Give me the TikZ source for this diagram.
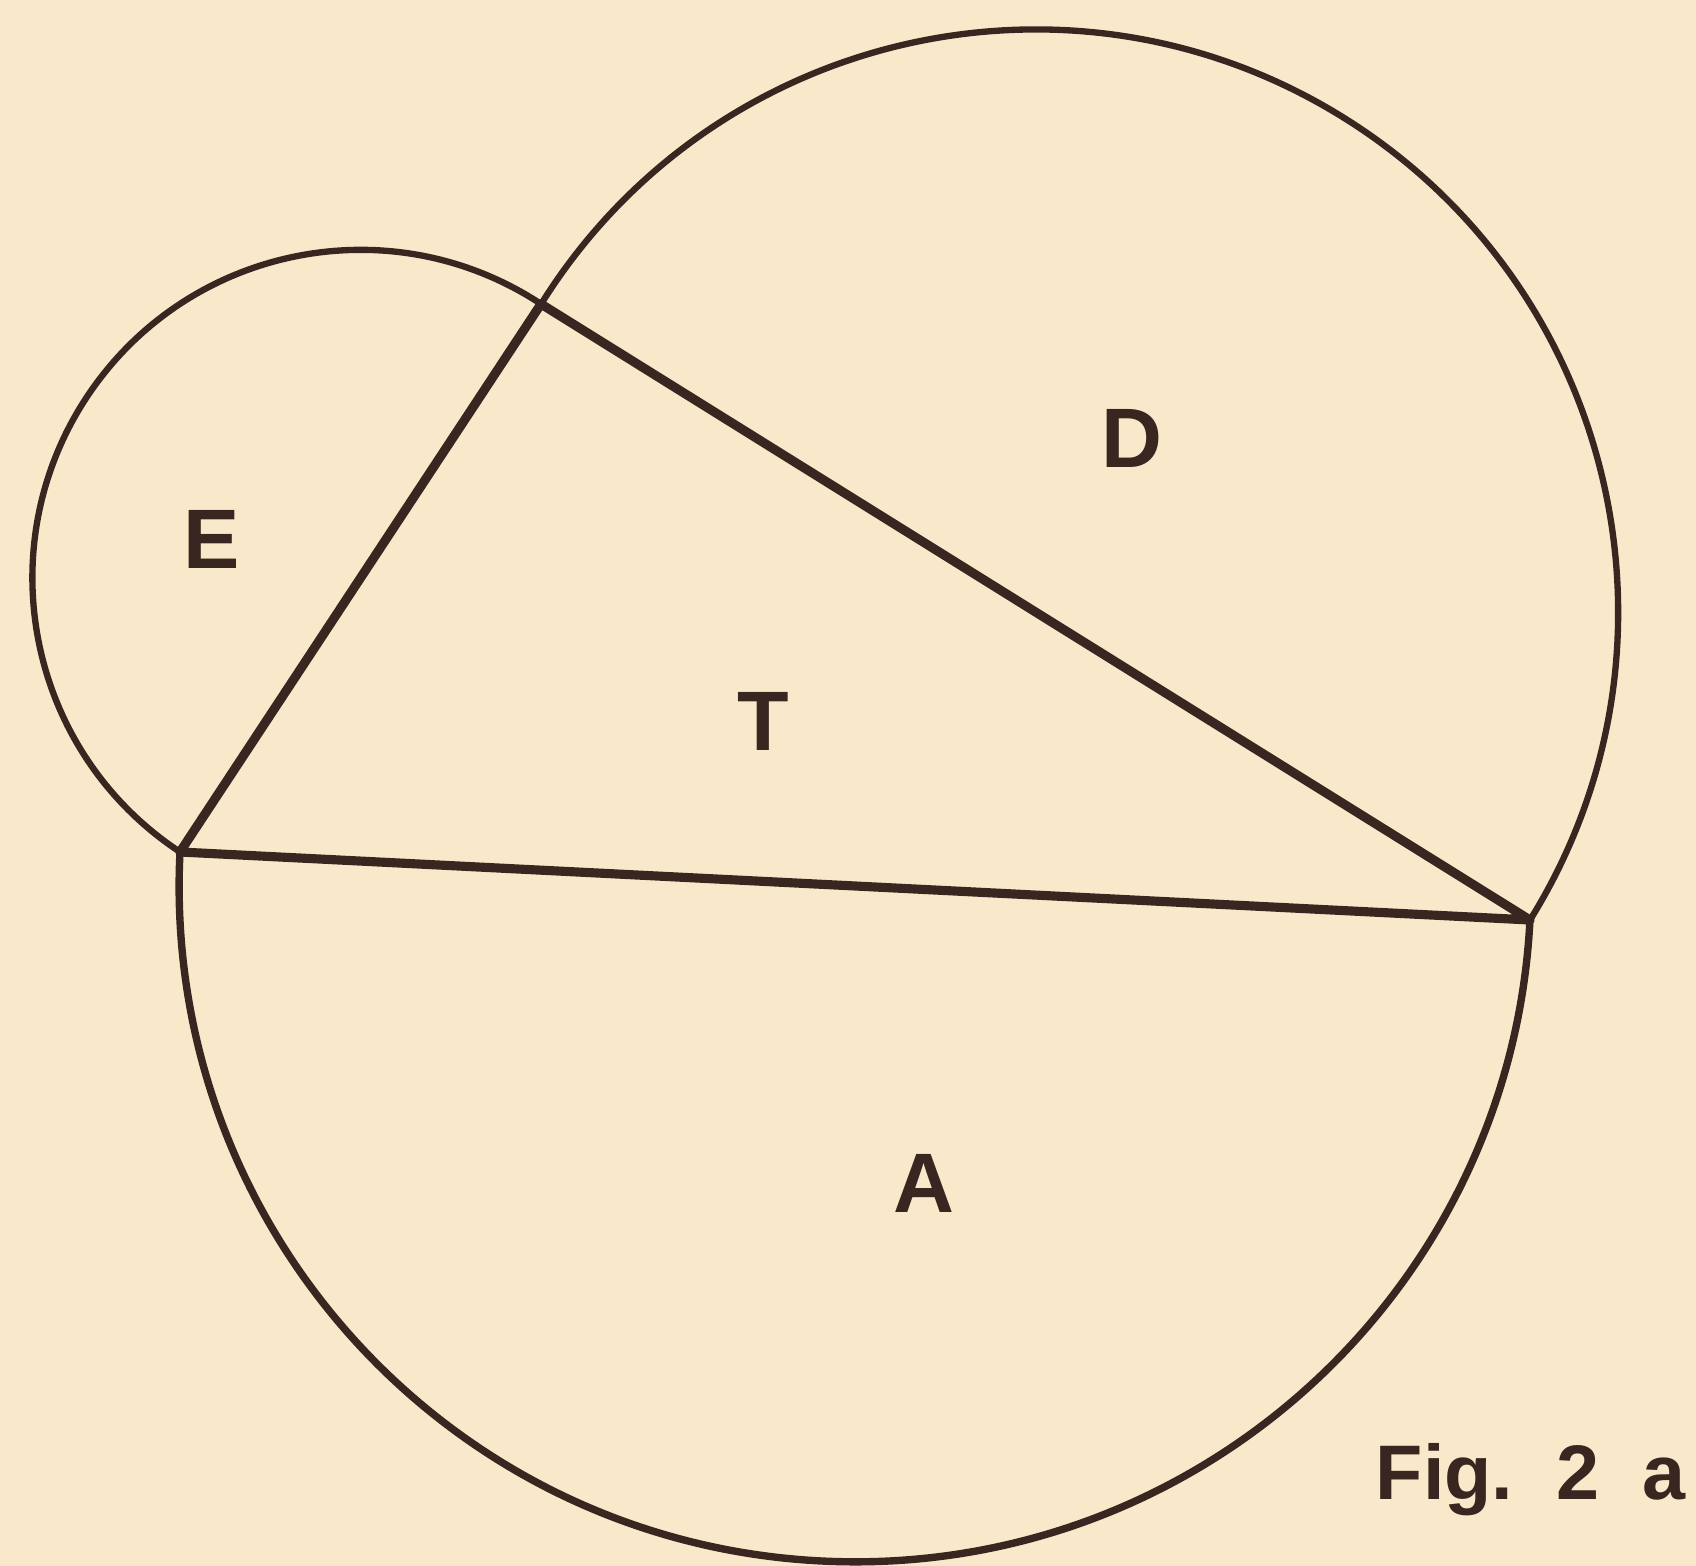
\documentclass[tikz,border=0pt]{standalone}
\usepackage{fontspec}
\setmainfont{Liberation Sans}
\usetikzlibrary{calc}
\definecolor{paper}{RGB}{249,233,202}
\definecolor{ink}{RGB}{58,38,32}
\tikzset{
  arcline/.style={draw=ink, line width=1.8pt},
  triline/.style={draw=ink, line width=2.6pt, line join=round},
  lbl/.style={text=ink, font=\bfseries\fontsize{24}{28}\selectfont, inner sep=0pt},
  caption/.style={text=ink, font=\bfseries\fontsize{22}{26}\selectfont, inner sep=0pt}
}
\begin{document}
\begin{tikzpicture}[x=0.01cm,y=0.01cm]
\fill[paper] (0,0) rectangle (1696,1566);
\useasboundingbox (0,0) rectangle (1696,1566);
\coordinate (P1) at (180,714);
\coordinate (P2) at (541,1262);
\coordinate (P3) at (1530,646);
% semicircles on the sides (outward)
\draw[arcline] let \p1=($(P2)-(P1)$), \n1={atan2(\y1,\x1)}, \n2={veclen(\x1,\y1)/2} in
  (P2) arc[start angle=\n1, delta angle=180, radius=\n2];
\draw[arcline] let \p1=($(P3)-(P2)$), \n1={atan2(\y1,\x1)}, \n2={veclen(\x1,\y1)/2} in
  (P3) arc[start angle=\n1, delta angle=180, radius=\n2];
\draw[arcline, line width=2.1pt] let \p1=($(P1)-(P3)$), \n1={atan2(\y1,\x1)}, \n2={veclen(\x1,\y1)/2} in
  (P1) arc[start angle=\n1, delta angle=180, radius=\n2];
% triangle
\draw[triline] (P1) -- (P2) -- (P3) -- cycle;
% labels
\node[lbl] (E) at (212,1027) {E};
\node[lbl] (D) at (1132,1128) {D};
\node[lbl] (T) at (763,845) {T};
\node[lbl] (A) at (924,383) {A};
\node[caption, anchor=base east] (fig) at (1686,66) {Fig.\ \ 2\ \ a};
\end{tikzpicture}
\end{document}
